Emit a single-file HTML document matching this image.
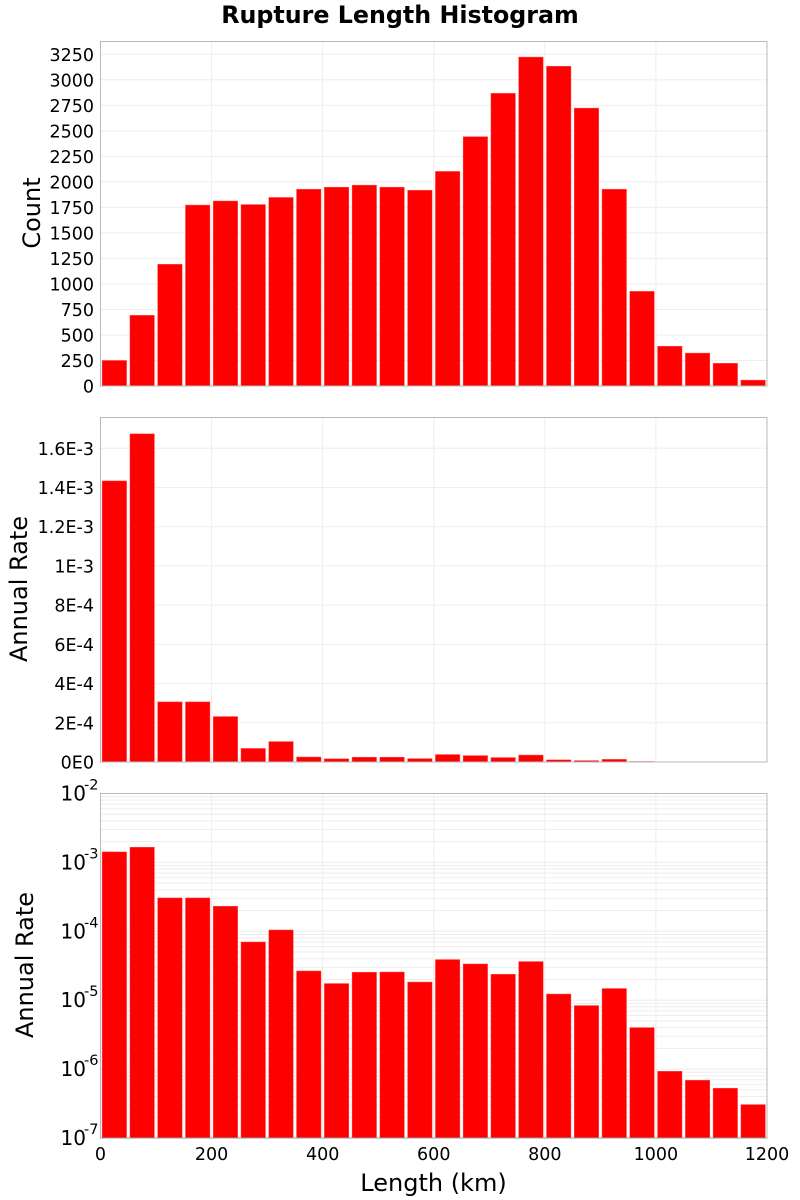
<!DOCTYPE html>
<html>
<head>
<meta charset="utf-8">
<title>Rupture Length Histogram</title>
<style>
html,body{margin:0;padding:0;background:#fff;width:800px;height:1200px;overflow:hidden}
svg{display:block}
text{font-family:"DejaVu Sans","Liberation Sans",sans-serif;fill:#000}
.tick{font-size:17.5px}
.axt{font-size:24px}
</style>
</head>
<body>
<svg id="chart" width="800" height="1200" viewBox="0 0 800 1200" xmlns="http://www.w3.org/2000/svg">
  <text x="400" y="23" text-anchor="middle" font-size="23.75" font-weight="bold">Rupture Length Histogram</text>
  <g id="panel-count"></g>
  <g id="panel-linear"></g>
  <g id="panel-log"></g>
  <text class="axt" transform="translate(40,213) rotate(-90)" text-anchor="middle">Count</text>
  <text class="axt" transform="translate(27,589) rotate(-90)" text-anchor="middle">Annual Rate</text>
  <text class="axt" transform="translate(33,965) rotate(-90)" text-anchor="middle">Annual Rate</text>
  <text class="axt" x="433.5" y="1191" text-anchor="middle">Length (km)</text>
</svg>
<script>
const binCenters = [25,75,125,175,225,275,325,375,425,475,525,575,625,675,725,775,825,875,925,975,1025,1075,1125,1175];
const countValues = [253,695,1195,1775,1815,1780,1850,1930,1950,1970,1950,1920,2105,2445,2870,3225,3135,2725,1930,930,392,325,225,60];
const rateValues = [1.435e-3,1.675e-3,3.08e-4,3.08e-4,2.33e-4,7.06e-5,1.055e-4,2.68e-5,1.76e-5,2.57e-5,2.59e-5,1.85e-5,3.92e-5,3.39e-5,2.4e-5,3.67e-5,1.24e-5,8.43e-6,1.49e-5,4.04e-6,9.38e-7,6.95e-7,5.32e-7,3.08e-7];
const xTicks = [0,200,400,600,800,1000,1200];
const countTicks = [0,250,500,750,1000,1250,1500,1750,2000,2250,2500,2750,3000,3250];
const rateTicks = [0,2e-4,4e-4,6e-4,8e-4,1e-3,1.2e-3,1.4e-3,1.6e-3];
const rateTickLabels = ["0E0","2E-4","4E-4","6E-4","8E-4","1E-3","1.2E-3","1.4E-3","1.6E-3"];
const logExponents = [-7,-6,-5,-4,-3,-2];
const minorMultipliers = [2,3,4,5,6,7,8,9];
const countMax = 3375;
const rateMax = 1.757e-3;
const barFraction = 0.9;
const binWidth = 50;

const NS = "http://www.w3.org/2000/svg";
const left = 100.5, right = 767, panelHeight = 344.5, xMax = 1200;
const xScale = v => left + v * (right - left) / xMax;

function mk(parent, tag, attrs, txt) {
  const el = document.createElementNS(NS, tag);
  for (const k in attrs) el.setAttribute(k, attrs[k]);
  if (txt !== undefined) el.textContent = txt;
  parent.appendChild(el);
  return el;
}

function drawGrid(g, bottom, yLines, yScale) {
  const top = bottom - panelHeight;
  const bg = mk(g, "rect", {x: left, y: top, width: right - left, height: panelHeight, fill: "#fff"});
  
  
  yLines.forEach(v => {
    const y = yScale(v);
    const line = mk(g, "line", {x1: left, x2: right, y1: y, y2: y, stroke: "#eeeeee", "stroke-width": 1});
    
    
  });
  xTicks.forEach(v => {
    const x = xScale(v);
    const line = mk(g, "line", {x1: x, x2: x, y1: top, y2: bottom, stroke: "#eeeeee", "stroke-width": 1});
    
    
  });
}

function drawBars(g, bottom, values, yScale) {
  const w = xScale(binWidth * barFraction) - xScale(0);
  values.forEach((v, i) => {
    const y = yScale(v);
    const bar = mk(g, "rect", {
      x: xScale(binCenters[i]) - w / 2, y: y, width: w, height: Math.max(bottom - y, 0),
      fill: "#ff0000", stroke: "#ffffff", "stroke-opacity": 0.35, "stroke-width": 1
    });
    
    
  });
}

function drawFrame(g, bottom) {
  const top = bottom - panelHeight;
  const frame = mk(g, "rect", {x: left, y: top, width: right - left, height: panelHeight, fill: "none", stroke: "#b9b9b9", "stroke-width": 1});
  
  
}

function yTickLabel(g, y, label) {
  const t = mk(g, "text", {class: "tick", x: 94, y: y + 6.5, "text-anchor": "end"}, label);
  
  
}

/* Panel 1: counts */
(function () {
  const g = document.getElementById("panel-count");
  const bottom = 386;
  const y = v => bottom - v * panelHeight / countMax;
  drawGrid(g, bottom, countTicks, y);
  drawBars(g, bottom, countValues, y);
  drawFrame(g, bottom);
  countTicks.forEach(v => yTickLabel(g, y(v), String(v)));
})();

/* Panel 2: linear rate */
(function () {
  const g = document.getElementById("panel-linear");
  const bottom = 762;
  const y = v => bottom - v * panelHeight / rateMax;
  drawGrid(g, bottom, rateTicks, y);
  drawBars(g, bottom, rateValues, y);
  drawFrame(g, bottom);
  rateTicks.forEach((v, i) => yTickLabel(g, y(v), rateTickLabels[i]));
})();

/* Panel 3: log rate */
(function () {
  const g = document.getElementById("panel-log");
  const bottom = 1138;
  const minExp = logExponents[0];
  const maxExp = logExponents[logExponents.length - 1];
  const y = v => bottom - (Math.log10(v) - minExp) * panelHeight / (maxExp - minExp);
  const lines = [];
  logExponents.forEach(e => {
    lines.push(Math.pow(10, e));
    if (e < maxExp) minorMultipliers.forEach(m => lines.push(m * Math.pow(10, e)));
  });
  drawGrid(g, bottom, lines, y);
  drawBars(g, bottom, rateValues, y);
  drawFrame(g, bottom);
  const axis = mk(g, "line", {x1: left, x2: right, y1: bottom, y2: bottom, stroke: "#999999", "stroke-width": 1});
  
  
  logExponents.forEach(e => {
    const py = y(Math.pow(10, e));
    const t = mk(g, "text", {x: 86, y: py + 7, "text-anchor": "end", "font-size": 20}, "10");
    
    
    const s = mk(g, "text", {x: 84, y: py - 4, "text-anchor": "start", "font-size": 14.5}, String(e));
    
    
  });
  xTicks.forEach(v => {
    const t = mk(g, "text", {class: "tick", x: xScale(v), y: 1160, "text-anchor": "middle"}, String(v));
    
    
  });
})();
</script>
</body>
</html>
